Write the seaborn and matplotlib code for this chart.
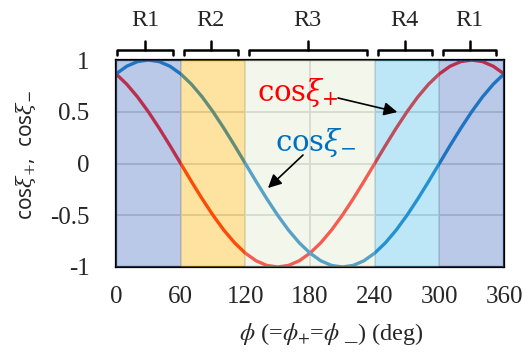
import matplotlib
matplotlib.use("Agg")
import matplotlib.pyplot as plt
import matplotlib.transforms as mtransforms
import numpy as np
import pandas as pd
import seaborn as sns

# Phase angle samples (deg) and the two cosine curves read at those angles
phi = [0, 10, 20, 30, 40, 50, 60, 70, 80, 90, 100, 110, 120, 130, 140, 150, 160, 170, 180,
       190, 200, 210, 220, 230, 240, 250, 260, 270, 280, 290, 300, 310, 320, 330, 340, 350, 360]
cos_plus = [0.866, 0.766, 0.643, 0.5, 0.342, 0.174, 0.0, -0.174, -0.342, -0.5, -0.643, -0.766,
            -0.866, -0.940, -0.985, -1.0, -0.985, -0.940, -0.866, -0.766, -0.643, -0.5, -0.342,
            -0.174, 0.0, 0.174, 0.342, 0.5, 0.643, 0.766, 0.866, 0.940, 0.985, 1.0, 0.985, 0.940, 0.866]
cos_minus = [0.866, 0.940, 0.985, 1.0, 0.985, 0.940, 0.866, 0.766, 0.643, 0.5, 0.342, 0.174, 0.0,
             -0.174, -0.342, -0.5, -0.643, -0.766, -0.866, -0.940, -0.985, -1.0, -0.985, -0.940,
             -0.866, -0.766, -0.643, -0.5, -0.342, -0.174, 0.0, 0.174, 0.342, 0.5, 0.643, 0.766, 0.866]

# Operating regions along the phase axis
region_labels = ["R1", "R2", "R3", "R4", "R1"]
region_edges = [0, 60, 120, 240, 300, 360]
region_colors = ["#5078c5", "#fabb11", "#e1ebcf", "#5cc5ed", "#5078c5"]

x_ticks = [0, 60, 120, 180, 240, 300, 360]
y_ticks = [-1, -0.5, 0, 0.5, 1]
y_tick_labels = ["-1", "-0.5", "0", "0.5", "1"]

RED = "#ff0000"
BLUE = "#0070c0"

sns.set_theme(style="white")
plt.rcParams["axes.unicode_minus"] = False
plt.rcParams["mathtext.fontset"] = "dejavuserif"
SERIF = ["Liberation Serif", "DejaVu Serif"]

fig = plt.figure(figsize=(5.23, 3.52), dpi=100)
ax = fig.add_axes([0.2218, 0.2415, 0.7419, 0.588])

df = pd.DataFrame({"phi": phi + phi,
                   "val": cos_plus + cos_minus,
                   "curve": ["plus"] * len(phi) + ["minus"] * len(phi)})
sns.lineplot(data=df, x="phi", y="val", hue="curve",
             palette={"plus": RED, "minus": BLUE}, lw=2.4, legend=False, ax=ax, zorder=2)

# Translucent region bands laid over the curves
for lo, hi, c in zip(region_edges[:-1], region_edges[1:], region_colors):
    ax.axvspan(lo, hi, color=c, alpha=0.4, lw=0, zorder=3)

ax.set_xlim(0, 360)
ax.set_ylim(-1, 1)
ax.set_xticks(x_ticks)
ax.set_xticklabels([str(v) for v in x_ticks], fontfamily=SERIF, fontsize=18)
ax.set_yticks(y_ticks)
ax.set_yticklabels(y_tick_labels, fontfamily=SERIF, fontsize=18)
ax.tick_params(axis="x", length=0, pad=14)
ax.tick_params(axis="y", length=0, pad=19)

ax.set_axisbelow(True)
ax.grid(True, color="#cfcfcf", lw=1.3)
for s in ax.spines.values():
    s.set_visible(True)
    s.set_color("black")
    s.set_linewidth(1.6)

ax.set_xlabel(r"$\phi$ (=$\phi_{+}$=$\phi$ _) (deg)", fontfamily=SERIF, fontsize=17.5,
              math_fontfamily="stix")
ax.xaxis.set_label_coords(0.554, -0.262)
ax.set_ylabel(r"cos$\xi_{+}$,  cos$\xi_{-}$", fontfamily=["Noto Sans", "DejaVu Sans"], fontsize=15)
ax.yaxis.set_label_coords(-0.2, 0.54)

# Curly-style brackets and region names above the plot
trans = mtransforms.blended_transform_factory(ax.transData, ax.transAxes)
for (lo, hi), name in zip(zip(region_edges[:-1], region_edges[1:]), region_labels):
    x0 = lo + (1 if lo == 0 else 3)
    x1 = hi - 7
    xm = (x0 + x1) / 2
    ax.plot([x0, x0, x1, x1], [1.024, 1.048, 1.048, 1.024], color="black", lw=1.8,
            transform=trans, clip_on=False, solid_joinstyle="round", solid_capstyle="round")
    ax.plot([xm, xm], [1.048, 1.092], color="black", lw=1.8,
            transform=trans, clip_on=False, solid_capstyle="round")
    ax.text(xm, 1.19, name, transform=trans, ha="center", va="center",
            fontfamily=SERIF, fontsize=17.5)

# Curve labels with pointers
ax.text(169, 0.69, r"cos$\xi_{+}$", color=RED, fontsize=21, fontfamily="DejaVu Serif",
        ha="center", va="center", zorder=6)
ax.text(185, 0.20, r"cos$\xi_{-}$", color=BLUE, fontsize=21, fontfamily="DejaVu Serif",
        ha="center", va="center", zorder=6)
ax.annotate("", xy=(261, 0.497), xytext=(206, 0.633),
            arrowprops=dict(arrowstyle="-|>", color="black", lw=1.2, mutation_scale=20,
                            shrinkA=0, shrinkB=0), zorder=6)
ax.annotate("", xy=(141, -0.237), xytext=(173.5, 0.082),
            arrowprops=dict(arrowstyle="-|>", color="black", lw=1.2, mutation_scale=20,
                            shrinkA=0, shrinkB=0), zorder=6)

fig.savefig("out.png", dpi=100)
